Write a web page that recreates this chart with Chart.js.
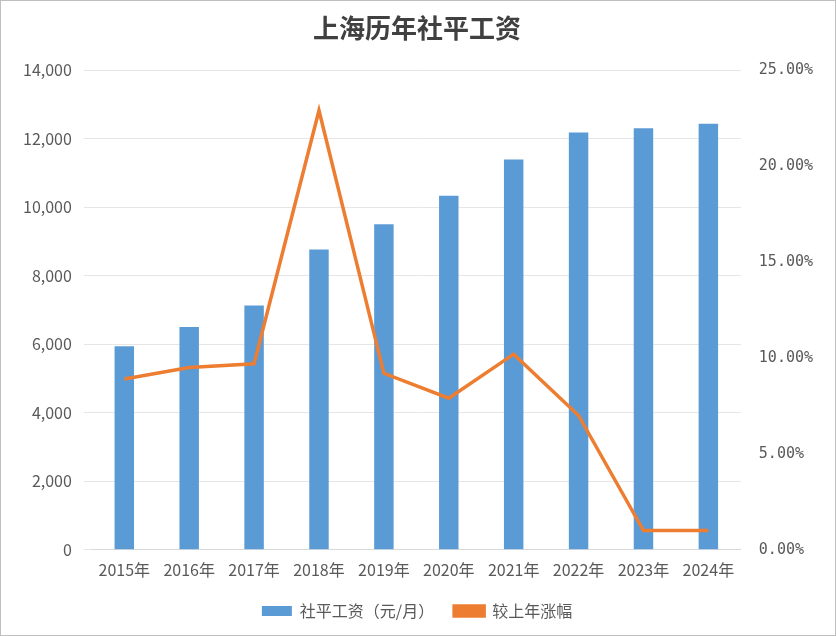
<!DOCTYPE html>
<html>
<head>
<meta charset="utf-8">
<script src="https://cdn.jsdelivr.net/npm/chart.js@4"></script>
<style>
  body { margin: 0; background: #fff; }
  .wrap { width: 834px; height: 634px; border: 1px solid #bfbfbf; position: relative; }
  canvas { display: block; }
</style>
</head>
<body>
<div class="wrap"><canvas id="myChart" width="834" height="634"></canvas></div>
<script>
const years = ["2015年", "2016年", "2017年", "2018年", "2019年", "2020年", "2021年", "2022年", "2023年", "2024年"];
const wages = [5939, 6504, 7132, 8765, 9500, 10338, 11396, 12183, 12307, 12434];
const growth = [8.9, 9.5, 9.7, 22.9, 9.2, 7.9, 10.2, 7.0, 1.0, 1.0];

const font = "'Noto Sans CJK SC', 'Noto Sans', sans-serif";
const ctx = document.getElementById("myChart");
new Chart(ctx, {
  data: {
    labels: years,
    datasets: [
      {
        type: "line",
        label: "较上年涨幅",
        data: growth,
        yAxisID: "y1",
        borderColor: "#ed7d31",
        backgroundColor: "#ed7d31",
        borderWidth: 3.5,
        pointRadius: 0,
        tension: 0,
        order: 0,
      },
      {
        type: "bar",
        label: "社平工资（元/月）",
        data: wages,
        yAxisID: "y",
        backgroundColor: "#5b9bd5",
        categoryPercentage: 0.3,
        barPercentage: 1,
        order: 1,
      },
    ],
  },
  options: {
    responsive: false,
    animation: false,
    layout: { padding: { left: 10, right: 12, top: 8, bottom: 6 } },
    plugins: {
      title: {
        display: true,
        text: "上海历年社平工资",
        color: "#404040",
        font: { family: font, size: 26, weight: "bold" },
        padding: { top: 4, bottom: 26 },
      },
      legend: {
        position: "bottom",
        reverse: true,
        labels: {
          color: "#595959",
          font: { family: font, size: 16 },
          boxWidth: 30,
          boxHeight: 10,
          padding: 20,
        },
      },
    },
    scales: {
      x: {
        grid: { display: false },
        border: { color: "#d9d9d9" },
        ticks: { color: "#595959", font: { family: font, size: 16 } },
      },
      y: {
        min: 0,
        max: 14000,
        ticks: { stepSize: 2000, color: "#595959", font: { family: font, size: 16 }, padding: 12 },
        grid: { color: "#e6e6e6" },
        border: { display: false },
      },
      y1: {
        position: "right",
        min: 0,
        max: 25,
        ticks: {
          stepSize: 5,
          color: "#595959",
          font: { family: "'DejaVu Sans Mono', monospace", size: 15 },
          padding: 10,
          callback: (v) => v.toFixed(2) + "%",
        },
        grid: { display: false },
        border: { display: false },
      },
    },
  },
});
</script>
</body>
</html>
